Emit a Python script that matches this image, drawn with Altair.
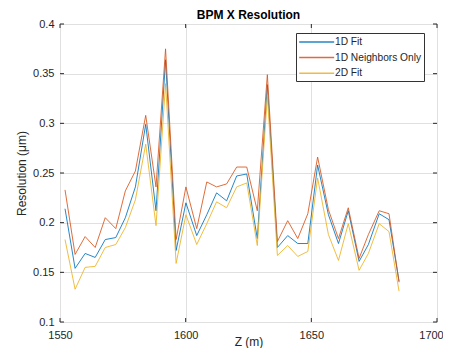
import altair as alt
import pandas as pd

z = [1552, 1556, 1560, 1564, 1568, 1572.2, 1576, 1580, 1584.1, 1588.2, 1592, 1596.2,
     1600.1, 1604.4, 1608.4, 1612.3, 1616.3, 1620.3, 1624.3, 1628.5, 1632.5, 1636.5,
     1640.6, 1644.6, 1648.6, 1652.5, 1656.8, 1660.8, 1664.7, 1669, 1672.7, 1677,
     1680.9, 1684.9]
fit1d = [0.214, 0.154, 0.169, 0.165, 0.183, 0.185, 0.205, 0.236, 0.299, 0.212, 0.364, 0.172,
         0.220, 0.187, 0.208, 0.230, 0.222, 0.247, 0.249, 0.184, 0.339, 0.175, 0.187, 0.179,
         0.179, 0.258, 0.208, 0.179, 0.212, 0.161, 0.178, 0.209, 0.203, 0.141]
neighbors = [0.233, 0.168, 0.186, 0.175, 0.205, 0.194, 0.232, 0.252, 0.308, 0.236, 0.375, 0.183,
             0.236, 0.194, 0.241, 0.236, 0.239, 0.256, 0.256, 0.212, 0.349, 0.181, 0.202, 0.184,
             0.209, 0.266, 0.213, 0.184, 0.215, 0.164, 0.188, 0.212, 0.209, 0.140]
fit2d = [0.183, 0.133, 0.155, 0.156, 0.175, 0.178, 0.195, 0.223, 0.279, 0.197, 0.340, 0.159,
         0.208, 0.178, 0.199, 0.221, 0.215, 0.236, 0.240, 0.177, 0.328, 0.167, 0.177, 0.166,
         0.171, 0.245, 0.188, 0.162, 0.199, 0.152, 0.169, 0.199, 0.191, 0.131]

series_names = ["1D Fit", "1D Neighbors Only", "2D Fit"]
series_colors = ["#0072BD", "#D95319", "#EDB120"]
x_ticks = [1550, 1600, 1650, 1700]
y_ticks = [0.1, 0.15, 0.2, 0.25, 0.3, 0.35, 0.4]

rows = []
for name, vals in zip(series_names, [fit1d, neighbors, fit2d]):
    for i, (zz, v) in enumerate(zip(z, vals)):
        rows.append({"z": zz, "res": v, "series": name, "idx": i})
df = pd.DataFrame(rows)

FONT = "Liberation Sans"
W, H = 377, 298

xscale = alt.Scale(domain=[1550, 1700], nice=False, zero=False)
yscale = alt.Scale(domain=[0.1, 0.4], nice=False, zero=False)

lines = alt.Chart(df).mark_line(strokeWidth=1, opacity=0.85, clip=True).encode(
    x=alt.X("z:Q", scale=xscale, title="Z (m)",
            axis=alt.Axis(values=x_ticks, format="d", ticks=False, tickSize=0,
                          labelPadding=7, labelFlush=False, grid=True,
                          labelOffset={"condition": {"test": "datum.value >= 1700", "value": -6},
                                       "value": 0},
                          gridColor="#e0e0e0", domain=False,
                          titleBaseline="alphabetic", titleY=23,
                          labelFont=FONT, labelFontSize=11, labelColor="#262626",
                          titleFont=FONT, titleFontSize=12, titleFontWeight="normal",
                          titleColor="#262626")),
    y=alt.Y("res:Q", scale=yscale, title="Resolution (μm)",
            axis=alt.Axis(values=y_ticks, format=".2~f", ticks=False, tickSize=0,
                          labelPadding=6, titlePadding=4, grid=True, labelFlush=False,
                          gridColor="#e0e0e0", domain=False,
                          labelFont=FONT, labelFontSize=11, labelColor="#262626",
                          titleFont=FONT, titleFontSize=12, titleFontWeight="normal",
                          titleColor="#262626")),
    color=alt.Color("series:N",
                    scale=alt.Scale(domain=series_names, range=series_colors),
                    sort=series_names,
                    legend=alt.Legend(title=None, orient="none", legendX=236, legendY=9,
                                      symbolType="M-1,0H5", symbolSize=136,
                                      symbolStrokeWidth=1.5,
                                      labelFont=FONT, labelFontSize=10.2,
                                      labelColor="#262626", labelOffset=23,
                                      rowPadding=2.6, padding=2,
                                      strokeColor="#333333", fillColor="white")),
    order=alt.Order("idx:Q"),
)

yt = pd.DataFrame({"v": y_ticks})
xt = pd.DataFrame({"v": x_ticks})
tick_color = "#262626"
yl = alt.Chart(yt).mark_rule(color=tick_color, strokeWidth=1).encode(
    y=alt.Y("v:Q", scale=yscale), x=alt.value(0), x2=alt.value(4))
yr = alt.Chart(yt).mark_rule(color=tick_color, strokeWidth=1).encode(
    y=alt.Y("v:Q", scale=yscale), x=alt.value(W - 4), x2=alt.value(W))
xb = alt.Chart(xt).mark_rule(color=tick_color, strokeWidth=1).encode(
    x=alt.X("v:Q", scale=xscale), y=alt.value(H - 4), y2=alt.value(H))
xtp = alt.Chart(xt).mark_rule(color=tick_color, strokeWidth=1).encode(
    x=alt.X("v:Q", scale=xscale), y=alt.value(0), y2=alt.value(4))

chart = alt.layer(lines, yl, yr, xb, xtp).properties(
    width=W, height=H,
    title=alt.TitleParams("BPM X Resolution", font=FONT, fontSize=12, fontWeight="bold",
                          color="#000000", anchor="middle", offset=5, dy=9),
    autosize=alt.AutoSizeParams(type="none"),
    padding={"left": 52, "top": 16, "right": 6, "bottom": 26},
).configure_view(stroke="#404040", strokeWidth=1).configure(background="white")

chart.save("out.html", embed_options={"renderer": "svg", "actions": False})
